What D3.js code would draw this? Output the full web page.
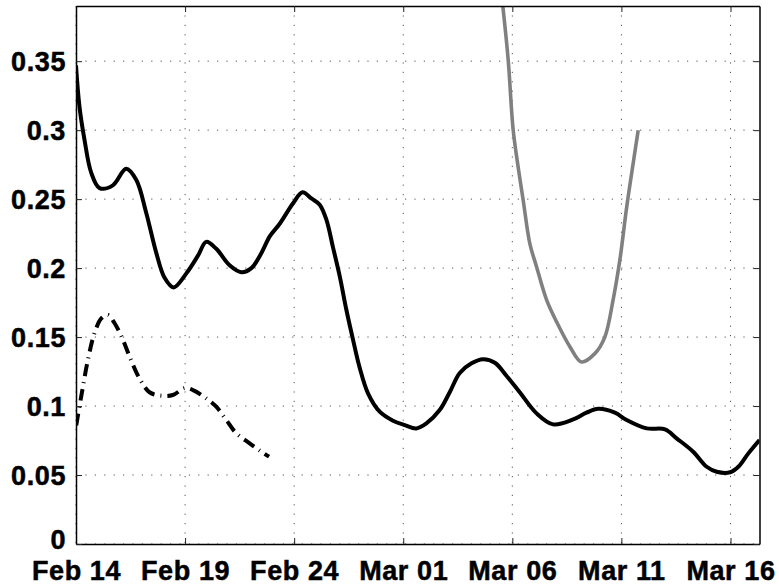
<!DOCTYPE html>
<html>
<head>
<meta charset="utf-8">
<script src="https://cdn.jsdelivr.net/npm/d3@7/dist/d3.min.js"></script>
<style>
  html, body { margin: 0; padding: 0; background: #fff; }
  svg { display: block; }
  text { font-family: "Liberation Sans", Arial, Helvetica, sans-serif; font-weight: bold; }
</style>
</head>
<body>
<svg id="chart" width="779" height="588"></svg>
<script>
// ---- data (x = days since Feb 14, y = value) ----
const solidDays = [0, 0.16, 0.39, 0.70, 1.08, 1.69, 2.30, 2.76, 3.22, 3.68, 4.06, 4.47, 5.05, 5.59, 5.97, 6.43, 7.04, 7.58, 8.04, 8.50, 8.88, 9.33, 9.95, 10.38, 10.79, 11.17, 11.48, 11.78, 12.09, 12.39, 12.70, 13.0, 13.39, 13.92, 14.53, 15.07, 15.6, 16.06, 16.67, 17.13, 17.59, 18.13, 18.66, 19.2, 19.73, 20.34, 21.11, 21.87, 22.79, 23.40, 23.94, 24.70, 25.24, 26.16, 27.0, 27.53, 28.29, 28.91, 29.37, 29.98, 30.36, 30.82, 31.33];
const solidVals = [0.347, 0.317, 0.293, 0.269, 0.258, 0.260, 0.272, 0.264, 0.240, 0.211, 0.193, 0.186, 0.196, 0.209, 0.219, 0.214, 0.202, 0.197, 0.200, 0.211, 0.223, 0.232, 0.247, 0.255, 0.2505, 0.246, 0.235, 0.215, 0.194, 0.170, 0.148, 0.128, 0.109, 0.0959, 0.0894, 0.0862, 0.0838, 0.0874, 0.0971, 0.110, 0.124, 0.131, 0.134, 0.1314, 0.122, 0.110, 0.0947, 0.0867, 0.0903, 0.0952, 0.098, 0.0952, 0.0899, 0.0838, 0.0831, 0.0766, 0.0669, 0.056, 0.0524, 0.052, 0.056, 0.0657, 0.0754];

const dashDays = [0.01, 0.24, 0.54, 0.85, 1.16, 1.46, 1.77, 2.15, 2.53, 2.91, 3.37, 3.91, 4.44, 4.98, 5.36, 5.97, 6.43, 6.89, 7.35, 7.96, 8.50, 8.85];
const dashVals = [0.086, 0.107, 0.133, 0.153, 0.1635, 0.166, 0.160, 0.148, 0.133, 0.120, 0.110, 0.1075, 0.108, 0.113, 0.1116, 0.1056, 0.0995, 0.0899, 0.0802, 0.073, 0.0669, 0.0633];

const grayDays = [19.55, 19.81, 20.04, 20.27, 20.5, 20.80, 21.11, 21.57, 22.03, 22.64, 23.17, 23.78, 24.24, 24.62, 24.93, 25.24, 25.54, 25.77];
const grayVals = [0.392, 0.351, 0.300, 0.273, 0.249, 0.218, 0.201, 0.177, 0.161, 0.143, 0.132, 0.138, 0.150, 0.177, 0.206, 0.244, 0.276, 0.300];

const xTickDays = [0, 5, 10, 15, 20, 25, 30];
const xTickLabels = ["Feb 14", "Feb 19", "Feb 24", "Mar 01", "Mar 06", "Mar 11", "Mar 16"];
const yTickVals = [0, 0.05, 0.1, 0.15, 0.2, 0.25, 0.3, 0.35];
const yTickLabels = ["0", "0.05", "0.1", "0.15", "0.2", "0.25", "0.3", "0.35"];

// ---- layout ----
const base = Date.UTC(2009, 1, 14);
const toDate = d => new Date(base + d * 864e5);
const L = 76, R = 759.5, T = 6, B = 544;

const svg = d3.select("#chart");
const x = d3.scaleUtc().domain([toDate(0), toDate(31.33)]).range([L, R]);
const y = d3.scaleLinear().domain([0, 0.39]).range([B, T]);

svg.append("defs").append("clipPath").attr("id", "clip")
  .append("rect").attr("x", L).attr("y", T).attr("width", R - L).attr("height", B - T);

// grid
const grid = svg.append("g");
xTickDays.forEach(d => {
  grid.append("line").attr("x1", x(toDate(d))).attr("x2", x(toDate(d)))
    .attr("y1", T).attr("y2", B)
    .attr("stroke", "#555").attr("stroke-width", 1).attr("stroke-dasharray", "1.2,8.2");
});
yTickVals.forEach(v => {
  grid.append("line").attr("x1", L).attr("x2", R)
    .attr("y1", y(v)).attr("y2", y(v))
    .attr("stroke", "#555").attr("stroke-width", 1).attr("stroke-dasharray", "1.2,8.2");
});

// lines
const line = d3.line().x(p => x(toDate(p[0]))).y(p => y(p[1])).curve(d3.curveCatmullRom.alpha(0.5));
const zip = (a, b) => a.map((v, i) => [v, b[i]]);
const plot = svg.append("g").attr("clip-path", "url(#clip)");

plot.append("path").datum(zip(grayDays, grayVals)).attr("d", line)
  .attr("fill", "none").attr("stroke", "#808080").attr("stroke-width", 3.6).attr("stroke-linejoin", "round");
plot.append("path").datum(zip(dashDays, dashVals)).attr("d", line)
  .attr("fill", "none").attr("stroke", "#000").attr("stroke-width", 4)
  .attr("stroke-dasharray", "12,6,1,6");
plot.append("path").datum(zip(solidDays, solidVals)).attr("d", line)
  .attr("fill", "none").attr("stroke", "#000").attr("stroke-width", 4).attr("stroke-linejoin", "round");

// axes (box with inward ticks)
const xAxisB = d3.axisBottom(x).tickValues(xTickDays.map(toDate)).tickFormat((d, i) => xTickLabels[i]).tickSizeInner(-6).tickSizeOuter(0).tickPadding(17);
const xAxisT = d3.axisTop(x).tickValues(xTickDays.map(toDate)).tickFormat("").tickSizeInner(-6).tickSizeOuter(0);
const yAxisL = d3.axisLeft(y).tickValues(yTickVals).tickFormat((d, i) => yTickLabels[i]).tickSizeInner(-6).tickSizeOuter(0).tickPadding(10);
const yAxisR = d3.axisRight(y).tickValues(yTickVals).tickFormat("").tickSizeInner(-6).tickSizeOuter(0);

const gB = svg.append("g").attr("transform", `translate(0,${B})`).call(xAxisB);
const gT = svg.append("g").attr("transform", `translate(0,${T})`).call(xAxisT);
const gL = svg.append("g").attr("transform", `translate(${L},0)`).call(yAxisL);
const gR = svg.append("g").attr("transform", `translate(${R},0)`).call(yAxisR);

[gB, gT, gL, gR].forEach(g => {
  g.select(".domain").attr("stroke", "#000").attr("stroke-width", 1.5);
  g.selectAll(".tick line").attr("stroke", "#222").attr("stroke-width", 1);
  g.selectAll("text").attr("fill", "#000").attr("font-size", 27).attr("font-weight", "bold")
    .attr("letter-spacing", "0.6px")
    .attr("stroke", "#000").attr("stroke-width", 0.5)
    .attr("font-family", '"Liberation Sans", Arial, sans-serif');
});
gB.selectAll(".tick text").attr("dy", "0.71em");
gL.selectAll(".tick text").attr("dy", (d, i) => i === 0 ? "0.18em" : "0.36em");
</script>
</body>
</html>
